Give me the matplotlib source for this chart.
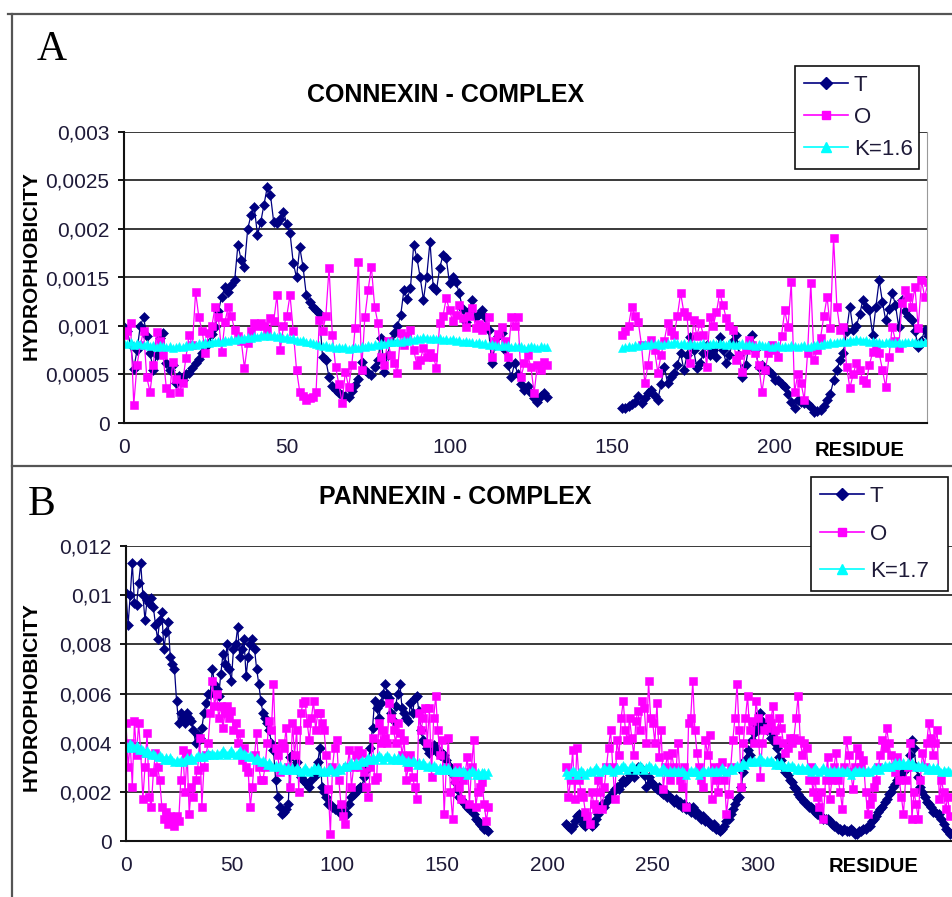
import numpy as np
import matplotlib
matplotlib.use("Agg")
import matplotlib.pyplot as plt
from matplotlib.lines import Line2D
from matplotlib.ticker import FixedLocator

W, H = 952, 897

# ---- panel A: connexin, values in units of 1e-5 ----
A_SCALE = 1e-5
A_START = [0, 153]
A_T = [
    [99, 95, 80, 56, 75, 100, 109, 90, 72, 55,
     70, 88, 93, 62, 55, 60, 41, 48, 44, 50,
     52, 57, 62, 66, 72, 78, 82, 92, 99, 115,
     130, 140, 135, 142, 147, 184, 168, 161, 200, 214,
     223, 194, 207, 225, 243, 235, 207, 206, 210, 218,
     205, 196, 165, 150, 181, 161, 132, 125, 120, 116,
     113, 68, 65, 47, 38, 34, 31, 29, 28, 27,
     33, 39, 45, 63, 55, 52, 49, 58, 65, 88,
     53, 70, 85, 93, 100, 111, 137, 128, 139, 184,
     170, 150, 127, 151, 187, 140, 137, 160, 173, 170,
     144, 150, 145, 134, 118, 104, 115, 127, 109, 112,
     116, 109, 96, 62, 80, 90, 93, 75, 60, 47,
     62, 50, 40, 34, 38, 31, 26, 22, 28, 31,
     27],
    [15, 15, 18, 20, 22, 28, 21, 26, 31, 34,
     28, 24, 40, 58, 41, 47, 52, 60, 72, 55,
     70, 89, 75, 57, 62, 72, 80, 70, 75, 68,
     89, 75, 62, 70, 85, 91, 70, 47, 60, 80,
     91, 75, 58, 60, 56, 55, 50, 44, 44, 40,
     37, 30, 22, 15, 24, 22, 21, 20, 16, 11,
     12, 13, 18, 24, 30, 44, 55, 65, 72, 95,
     120, 96, 100, 112, 127, 120, 116, 91, 120, 147,
     125, 106, 118, 134, 122, 99, 127, 115, 110, 106,
     95, 78, 85, 96, 90],
]
A_O = [
    [91, 95, 103, 19, 60, 80, 95, 47, 32, 60,
     94, 85, 70, 36, 31, 63, 45, 32, 41, 67,
     91, 80, 135, 109, 95, 72, 93, 100, 120, 109,
     73, 104, 120, 110, 96, 90, 85, 57, 82, 95,
     103, 100, 103, 100, 96, 108, 105, 132, 75, 100,
     110, 132, 95, 55, 32, 28, 24, 26, 27, 32,
     106, 95, 110, 160, 91, 58, 40, 21, 53, 37,
     60, 98, 166, 55, 109, 137, 161, 120, 103, 68,
     60, 85, 70, 62, 52, 93, 80, 90, 96, 75,
     60, 65, 77, 68, 72, 68, 57, 103, 110, 129,
     116, 105, 111, 122, 108, 99, 110, 119, 98, 102,
     96, 100, 109, 68, 85, 92, 99, 85, 68, 109,
     100, 109, 47, 62, 70, 58, 31, 60, 55, 63,
     60],
    [91, 95, 100, 120, 110, 104, 80, 41, 60, 86,
     75, 52, 70, 85, 103, 95, 91, 110, 134, 114,
     110, 62, 106, 90, 103, 91, 58, 109, 100, 114,
     134, 122, 108, 100, 96, 65, 70, 53, 75, 86,
     80, 72, 60, 32, 55, 72, 80, 75, 68, 90,
     116, 99, 145, 32, 50, 41, 24, 72, 144, 65,
     75, 88, 110, 130, 98, 191, 120, 96, 99, 58,
     36, 50, 62, 55, 44, 41, 60, 73, 80, 72,
     55, 37, 68, 99, 85, 77, 124, 137, 130, 120,
     140, 98, 147, 130, 145],
]
A_K = [
    [82, 81, 83, 80, 82, 81, 80, 81, 79, 80,
     78, 80, 79, 78, 79, 77, 78, 79, 78, 80,
     79, 81, 80, 82, 81, 83, 82, 84, 83, 85,
     84, 86, 85, 87, 86, 88, 87, 88, 89, 88,
     90, 89, 91, 90, 91, 90, 91, 89, 90, 88,
     89, 87, 88, 86, 85, 86, 84, 83, 82, 81,
     80, 79, 80, 78, 79, 77, 78, 77, 78, 76,
     77, 78, 77, 79, 78, 80, 79, 81, 80, 82,
     81, 83, 84, 83, 85, 84, 86, 85, 87, 86,
     88, 87, 89, 88, 87, 88, 87, 88, 86, 87,
     86, 87, 85, 86, 84, 85, 83, 84, 82, 83,
     81, 82, 80, 81, 80, 79, 80, 79, 80, 78,
     79, 78, 79, 77, 78, 79, 78, 77, 79, 78,
     78],
    [77, 78, 79, 78, 80, 79, 80, 81, 80, 82,
     81, 82, 80, 81, 82, 81, 83, 82, 81, 82,
     80, 82, 81, 80, 81, 82, 80, 81, 82, 81,
     82, 81, 80, 82, 81, 80, 81, 82, 80, 81,
     80, 79, 81, 80, 79, 80, 78, 79, 80, 78,
     79, 78, 80, 79, 78, 79, 80, 78, 79, 80,
     81, 80, 82, 81, 83, 82, 84, 83, 85, 84,
     86, 85, 87, 86, 85, 86, 84, 85, 83, 84,
     82, 83, 84, 82, 83, 84, 82, 83, 84, 83,
     84, 82, 83, 84, 83],
]
A_YTICKS = [0, 0.0005, 0.001, 0.0015, 0.002, 0.0025, 0.003]
A_YLABELS = ["0", "0,0005", "0,001", "0,0015", "0,002", "0,0025", "0,003"]
A_XTICKS = [0, 50, 100, 150, 200]
A_LEGEND = ["T", "O", "K=1.6"]

# ---- panel B: pannexin, values in units of 1e-4 ----
B_SCALE = 1e-4
B_START = [0, 209]
B_T = [
    [101, 88, 100, 113, 97, 96, 105, 113, 100, 90,
     98, 97, 99, 95, 88, 82, 90, 93, 78, 85,
     89, 75, 72, 70, 57, 48, 52, 50, 48, 52,
     50, 49, 45, 40, 43, 42, 46, 52, 56, 60,
     60, 70, 64, 62, 59, 68, 76, 72, 80, 70,
     65, 78, 80, 87, 75, 78, 82, 67, 75, 80,
     82, 78, 70, 64, 57, 52, 50, 48, 45, 40,
     37, 25, 18, 14, 11, 12, 13, 15, 34, 35,
     30, 32, 28, 26, 25, 24, 23, 22, 25, 27,
     27, 32, 38, 22, 20, 18, 15, 15, 14, 13,
     13, 12, 14, 13, 12, 11, 15, 18, 19, 20,
     21, 22, 22, 26, 29, 33, 38, 46, 57, 54,
     50, 56, 60, 64, 60, 58, 52, 49, 55, 60,
     64, 54, 52, 50, 49, 56, 52, 58, 59, 53,
     45, 41, 40, 38, 36, 37, 39, 38, 36, 35,
     36, 35, 33, 31, 30, 27, 24, 21, 18, 17,
     16, 15, 14, 13, 13, 11, 9, 8, 7, 6,
     5, 5, 4],
    [7, 6, 5, 6, 8, 10, 11, 9, 7, 6,
     8, 7, 6, 7, 9, 11, 13, 15, 14, 16,
     18, 18, 20, 21, 22, 21, 23, 25, 24, 25,
     27, 28, 26, 29, 30, 30, 28, 27, 22, 26,
     24, 23, 22, 21, 22, 20, 19, 20, 18, 18,
     17, 16, 17, 15, 16, 14, 15, 13, 14, 12,
     14, 11, 12, 10, 9, 10, 8, 8, 7, 6,
     7, 5, 5, 4, 5, 6, 8, 9, 11, 13,
     15, 17, 18, 22, 28, 33, 37, 35, 41, 44,
     47, 45, 52, 49, 47, 45, 47, 42, 44, 40,
     38, 34, 33, 30, 28, 27, 25, 24, 22, 21,
     19, 18, 17, 16, 15, 14, 14, 13, 12, 11,
     11, 10, 9, 9, 9, 8, 7, 6, 6, 5,
     5, 4, 5, 4, 4, 5, 4, 3, 3, 4,
     4, 5, 5, 6, 6, 8, 9, 10, 12, 13,
     14, 16, 17, 19, 20, 22, 23, 25, 26, 27,
     28, 30, 30, 35, 41, 38, 30, 26, 22, 20,
     18, 16, 15, 14, 12, 12, 11, 11, 9, 7,
     5, 4, 3],
]
B_O = [
    [48, 30, 40, 22, 49, 35, 48, 36, 17, 30,
     44, 18, 14, 28, 36, 30, 25, 14, 9, 12,
     7, 10, 8, 6, 10, 8, 25, 37, 20, 36,
     11, 22, 18, 25, 29, 42, 14, 30, 35, 40,
     52, 65, 55, 60, 50, 55, 46, 52, 55, 50,
     53, 45, 48, 40, 44, 33, 38, 30, 28, 14,
     22, 35, 44, 30, 25, 25, 30, 40, 49, 45,
     64, 38, 35, 28, 40, 38, 46, 30, 22, 48,
     35, 45, 20, 52, 56, 57, 48, 41, 50, 57,
     45, 52, 52, 48, 45, 35, 21, 3, 30, 38,
     41, 25, 15, 10, 7, 30, 37, 22, 30, 35,
     37, 30, 36, 28, 22, 18, 30, 42, 25, 26,
     48, 40, 45, 42, 40, 56, 50, 45, 40, 48,
     44, 35, 41, 25, 30, 35, 26, 22, 17, 52,
     45, 50, 54, 40, 54, 26, 50, 59, 45, 35,
     41, 11, 30, 42, 20, 9, 25, 30, 22, 17,
     25, 28, 34, 15, 30, 41, 14, 20, 22, 24,
     15, 8, 14],
    [30, 18, 25, 37, 17, 38, 25, 20, 18, 12,
     10, 7, 20, 15, 13, 25, 20, 13, 22, 30,
     38, 45, 30, 17, 41, 35, 50, 57, 45, 41,
     50, 42, 35, 49, 53, 45, 57, 54, 40, 65,
     50, 48, 40, 56, 34, 45, 21, 30, 35, 25,
     36, 30, 28, 40, 25, 22, 30, 14, 48, 50,
     65, 45, 36, 30, 25, 22, 41, 35, 43, 17,
     30, 25, 20, 30, 32, 25, 11, 19, 30, 41,
     50, 64, 45, 22, 40, 50, 59, 45, 49, 40,
     57, 50, 26, 40, 45, 46, 50, 48, 55, 45,
     41, 50, 46, 40, 36, 38, 42, 40, 42, 50,
     59, 41, 35, 40, 38, 25, 30, 20, 25, 18,
     14, 20, 9, 25, 34, 17, 25, 30, 36, 25,
     20, 13, 30, 41, 35, 28, 21, 30, 38, 35,
     30, 33, 20, 11, 15, 18, 22, 25, 30, 35,
     41, 38, 46, 40, 35, 30, 28, 34, 25, 18,
     11, 25, 30, 40, 9, 20, 15, 9, 25, 36,
     30, 40, 48, 42, 35, 40, 45, 17, 25, 20,
     13, 18, 10],
]
B_K = [
    [39, 38, 40, 39, 38, 39, 37, 38, 37, 36,
     37, 36, 35, 36, 35, 34, 35, 34, 33, 34,
     33, 34, 33, 32, 33, 32, 33, 32, 33, 34,
     33, 34, 33, 34, 35, 34, 35, 34, 35, 36,
     35, 36, 35, 36, 35, 36, 37, 36, 35, 36,
     37, 36, 35, 36, 37, 35, 36, 35, 34, 35,
     34, 33, 34, 33, 32, 33, 32, 31, 32, 31,
     30, 31, 30, 31, 29, 30, 29, 30, 29, 30,
     29, 30, 29, 28, 29, 30, 29, 28, 29, 30,
     29, 30, 29, 28, 29, 28, 29, 30, 29, 28,
     29, 30, 29, 30, 31, 30, 31, 32, 31, 32,
     31, 32, 33, 32, 33, 34, 33, 34, 33, 34,
     35, 34, 33, 34, 35, 34, 33, 34, 33, 34,
     33, 34, 33, 32, 33, 32, 33, 32, 31, 32,
     31, 32, 31, 30, 31, 30, 31, 30, 29, 30,
     29, 30, 29, 30, 29, 28, 29, 28, 29, 28,
     29, 28, 27, 28, 29, 28, 27, 28, 27, 28,
     28, 27, 28],
    [28, 27, 28, 29, 28, 27, 28, 29, 28, 27,
     28, 29, 28, 29, 30, 29, 28, 29, 30, 29,
     30, 29, 28, 29, 30, 29, 30, 31, 30, 29,
     30, 31, 30, 29, 30, 31, 30, 29, 30, 31,
     30, 29, 30, 29, 28, 29, 30, 29, 28, 29,
     28, 29, 28, 29, 28, 29, 28, 27, 28, 29,
     28, 29, 28, 27, 28, 29, 28, 29, 28, 29,
     28, 29, 28, 29, 30, 29, 28, 29, 30, 29,
     30, 31, 30, 31, 32, 31, 32, 33, 32, 33,
     32, 33, 34, 33, 32, 33, 32, 33, 32, 31,
     32, 31, 32, 31, 30, 31, 30, 31, 30, 29,
     30, 29, 30, 29, 30, 29, 28, 29, 30, 29,
     28, 29, 30, 29, 28, 29, 28, 29, 28, 29,
     28, 29, 28, 29, 28, 27, 28, 29, 28, 29,
     28, 29, 28, 29, 28, 29, 30, 29, 30, 29,
     30, 31, 30, 31, 30, 31, 32, 31, 32, 31,
     32, 31, 32, 31, 32, 31, 30, 31, 30, 31,
     30, 29, 30, 29, 30, 29, 30, 29, 28, 29,
     28, 29, 28],
]
B_YTICKS = [0, 0.002, 0.004, 0.006, 0.008, 0.01, 0.012]
B_YLABELS = ["0", "0,002", "0,004", "0,006", "0,008", "0,01", "0,012"]
B_XTICKS = [0, 50, 100, 150, 200, 250, 300]
B_LEGEND = ["T", "O", "K=1.7"]

NAVY, MAGENTA, CYAN = "#000080", "#ff00ff", "#00ffff"
TXT = "#1e1a38"
SANS = "Liberation Sans"


def fx(px):
    return px / W


def fy(py):
    return 1 - py / H


def draw_panel(ax, starts, t, o, k, scale, labels):
    styles = [(t, NAVY, "D", 5.2), (o, MAGENTA, "s", 5.8), (k, CYAN, "^", 6.0)]
    handles = []
    for (series, color, marker, ms), label in zip(styles, labels):
        for start, vals in zip(starts, series):
            x = start + np.arange(len(vals))
            ax.plot(x, np.array(vals) * scale, color=color, lw=0.9,
                    marker=marker, ms=ms, mec=color, mew=0.4)
        handles.append(Line2D([], [], color=color, lw=1.2, marker=marker,
                              ms=ms + 0.6, mec=color, label=label))
    ax.grid(True, axis="y", color="#2a2a2a", lw=1.3)
    ax.set_axisbelow(True)
    ax.spines["top"].set_visible(False)
    ax.spines["right"].set_color("#999999")
    for s in ("left", "bottom"):
        ax.spines[s].set_color("#111111")
        ax.spines[s].set_linewidth(1.5)
    ax.tick_params(axis="y", length=4.5, width=1.3, pad=6, labelsize=15,
                   labelcolor=TXT)
    ax.tick_params(axis="x", length=0, pad=11, labelsize=15, labelcolor=TXT)
    return handles


def add_legend(ax, handles, x0, y0, width, spacing):
    leg = ax.legend(handles=handles, loc="upper left",
                    bbox_to_anchor=(fx(x0), fy(y0) - 0.01, width / W, 0.01),
                    bbox_transform=fig.transFigure, mode="expand",
                    borderaxespad=0, frameon=True, fancybox=False,
                    edgecolor="#111111", framealpha=1, handlelength=2.0,
                    handletextpad=0.25, labelspacing=spacing, borderpad=0.4,
                    prop={"family": SANS, "size": 16})
    leg.get_frame().set_linewidth(1.2)
    for t in leg.get_texts():
        t.set_color(TXT)
    return leg


fig = plt.figure(figsize=(W / 100, H / 100), dpi=100)

# panel A
axA = fig.add_axes([fx(124), fy(423), fx(927) - fx(124), fy(132) - fy(423)])
hA = draw_panel(axA, A_START, A_T, A_O, A_K, A_SCALE, A_LEGEND)
axA.set_xlim(0, (927 - 124) / 3.255)
axA.set_ylim(0, 0.003)
axA.yaxis.set_major_locator(FixedLocator(A_YTICKS))
axA.set_yticklabels(A_YLABELS, fontfamily=SANS)
axA.set_xticks(A_XTICKS)
axA.set_xticklabels([str(v) for v in A_XTICKS], fontfamily=SANS)
add_legend(axA, hA, 795, 66, 124, 0.5)

# panel B
axB = fig.add_axes([fx(126), fy(841), fx(960) - fx(126), fy(546) - fy(841)])
hB = draw_panel(axB, B_START, B_T, B_O, B_K, B_SCALE, B_LEGEND)
axB.set_xlim(0, (960 - 126) / 2.107)
axB.set_ylim(0, 0.012)
axB.yaxis.set_major_locator(FixedLocator(B_YTICKS))
axB.set_yticklabels(B_YLABELS, fontfamily=SANS)
axB.set_xticks(B_XTICKS)
axB.set_xticklabels([str(v) for v in B_XTICKS], fontfamily=SANS)
add_legend(axB, hB, 811, 477, 137, 0.75)

# texts
fig.text(fx(446), fy(95), "CONNEXIN - COMPLEX", ha="center", va="center",
         fontsize=18, fontweight="bold", family=SANS)
fig.text(fx(455), fy(497), "PANNEXIN - COMPLEX", ha="center", va="center",
         fontsize=18, fontweight="bold", family=SANS)
for py in (266, 697):
    fig.text(fx(31), fy(py), "HYDROPHOBICITY", rotation=90, ha="center",
             va="center", fontsize=15, fontweight="bold", family=SANS)
fig.text(fx(860), fy(450), "RESIDUE", ha="center", va="center",
         fontsize=14.5, fontweight="bold", family=SANS)
fig.text(fx(874), fy(866), "RESIDUE", ha="center", va="center",
         fontsize=14.5, fontweight="bold", family=SANS)
fig.text(fx(52), fy(50), "A", ha="center", va="center", fontsize=30,
         family="Liberation Serif")
fig.text(fx(42), fy(505), "B", ha="center", va="center", fontsize=30,
         family="Liberation Serif")

# chart frames
frame = dict(color="#555555", lw=1.6, transform=fig.transFigure)
fig.add_artist(Line2D([fx(8), 1], [fy(14), fy(14)], **frame))
fig.add_artist(Line2D([fx(12), fx(12)], [fy(14), 0], **frame))
fig.add_artist(Line2D([fx(12), 1], [fy(466), fy(466)], **frame))

fig.savefig("out.png", dpi=100)
